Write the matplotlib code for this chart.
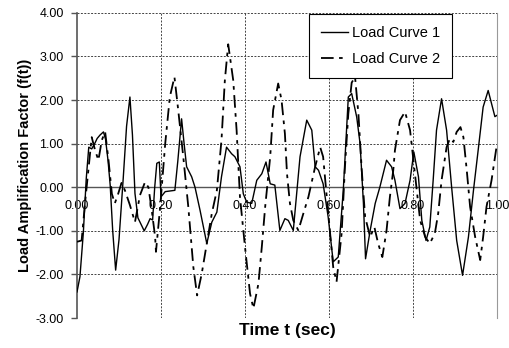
import numpy as np
import matplotlib
matplotlib.use("Agg")
import matplotlib.pyplot as plt

plt.rcParams['font.family'] = ['Liberation Sans', 'DejaVu Sans']

# Load Curve 1 (solid)
t1 = [0.0, 0.007, 0.015, 0.022, 0.028, 0.035, 0.042, 0.048, 0.055, 0.063, 0.068, 0.074,
      0.079, 0.085, 0.092, 0.1, 0.11, 0.118, 0.126, 0.132, 0.138, 0.145, 0.16, 0.168,
      0.174, 0.18, 0.185, 0.19, 0.196, 0.2, 0.21, 0.233, 0.24, 0.249, 0.255, 0.261,
      0.273, 0.281, 0.293, 0.309, 0.321, 0.333, 0.344, 0.356, 0.368, 0.376, 0.388,
      0.396, 0.404, 0.416, 0.428, 0.44, 0.45, 0.46, 0.471, 0.483, 0.495, 0.503, 0.515,
      0.531, 0.547, 0.559, 0.567, 0.575, 0.586, 0.598, 0.61, 0.622, 0.634, 0.646, 0.654,
      0.666, 0.674, 0.682, 0.687, 0.698, 0.71, 0.721, 0.737, 0.749, 0.757, 0.769, 0.781,
      0.793, 0.802, 0.813, 0.821, 0.831, 0.84, 0.848, 0.856, 0.868, 0.88, 0.892, 0.904,
      0.918, 0.932, 0.944, 0.956, 0.967, 0.979, 0.987, 0.995, 1.0]
f1 = [-2.4, -2.05, -1.05, 0.2, 0.92, 0.88, 1.0, 1.12, 1.2, 1.27, 1.1, 0.6,
      0.05, -1.0, -1.9, -1.2, 0.2, 1.4, 2.07, 1.2, -0.14, -0.7, -1.0, -0.85,
      -0.72, -0.75, 0.0, 0.55, 0.58, -0.22, -0.1, -0.07, 0.6, 1.57, 1.0, 0.47,
      0.24, 0.0, -0.53, -1.29, -0.8, -0.57, 0.24, 0.92, 0.77, 0.7, 0.47,
      -0.15, -0.34, -0.37, 0.16, 0.31, 0.58, 0.08, 0.05, -0.99, -0.72, -0.76, -0.99,
      0.7, 1.54, 1.31, 0.47, 0.39, 0.08, -0.68, -1.71, -1.6, -0.07, 2.07, 2.15,
      1.61, 1.0, -0.37, -1.64, -0.99, -0.37, 0.0, 0.62, 0.47, 0.16, -0.49, -0.37,
      0.16, 0.81, 0.24, -0.76, -1.22, -0.91, 0.16, 1.31, 2.03, 1.31, 0.0, -1.22,
      -2.02, -1.14, -0.07, 0.92, 1.84, 2.22, 1.92, 1.62, 1.65]

# Load Curve 2 (dash-dot)
t2 = [0.0, 0.011, 0.019, 0.027, 0.035, 0.043, 0.051, 0.059, 0.067, 0.075, 0.083, 0.09,
      0.098, 0.106, 0.114, 0.126, 0.138, 0.15, 0.162, 0.17, 0.178, 0.186, 0.188, 0.198,
      0.21, 0.221, 0.232, 0.241, 0.253, 0.265, 0.277, 0.286, 0.297, 0.309, 0.321, 0.333,
      0.344, 0.352, 0.36, 0.372, 0.38, 0.388, 0.4, 0.412, 0.42, 0.432, 0.44, 0.448,
      0.46, 0.467, 0.479, 0.487, 0.495, 0.5, 0.507, 0.515, 0.527, 0.539, 0.551, 0.567,
      0.579, 0.586, 0.594, 0.602, 0.61, 0.618, 0.63, 0.638, 0.646, 0.654, 0.662, 0.67,
      0.678, 0.686, 0.698, 0.708, 0.717, 0.727, 0.737, 0.745, 0.753, 0.757, 0.769, 0.781,
      0.793, 0.801, 0.809, 0.817, 0.829, 0.84, 0.852, 0.86, 0.868, 0.88, 0.888, 0.896,
      0.904, 0.913, 0.92, 0.928, 0.936, 0.948, 0.96, 0.967, 0.975, 0.987, 1.0]
f2 = [-1.25, -1.22, -0.37, 0.39, 1.15, 0.85, 0.62, 1.08, 1.27, 0.62, -0.15, -0.37,
      -0.15, 0.1, -0.07, -0.41, -0.8, -0.18, 0.12, 0.0, -0.53, -1.14, -1.48, -0.45,
      1.0, 2.07, 2.53, 1.77, 0.7, -0.45, -1.83, -2.48, -1.98, -1.29, -0.6, -0.07,
      1.08, 2.45, 3.28, 2.45, 1.31, -0.22, -1.37, -2.44, -2.78, -2.21, -1.37, -0.45,
      0.7, 1.77, 2.38, 2.0, 1.23, 0.31, -0.37, -0.76, -0.99, -0.6, -0.22, 0.47,
      0.92, 0.7, -0.15, -0.99, -1.83, -2.17, -1.06, 0.47, 1.69, 2.4, 2.53, 1.69,
      0.39, -0.68, -1.14, -0.91, -1.29, -1.6, -0.99, -0.22, 0.39, 0.85, 1.54, 1.73,
      1.31, 0.62, -0.07, -0.76, -1.14, -1.29, -1.06, -0.6, 0.16, 0.92, 1.12, 1.04,
      1.27, 1.38, 1.15, 0.39, -0.45, -1.14, -1.67, -1.14, -0.45, 0.16, 1.0]

xticks = [0.0, 0.2, 0.4, 0.6, 0.8, 1.0]
yticks = [-3, -2, -1, 0, 1, 2, 3, 4]

fig = plt.figure(figsize=(5.1, 3.48), dpi=100)
ax = fig.add_axes([0.151, 0.086, 0.8235, 0.877])

# grid
for x in xticks[1:-1]:
    ax.axvline(x, color='#444444', lw=0.7, ls=(0, (2, 1.5)), zorder=1)
for y in yticks:
    if y != 0:
        ax.axhline(y, color='#444444', lw=0.7, ls=(0, (2, 1.5)), zorder=1)

ax.plot(t1, f1, color='black', lw=1.0, label='Load Curve 1', zorder=3)
ax.plot(t2, f2, color='black', lw=1.3, ls=(0, (7, 3, 2, 3)), label='Load Curve 2', zorder=3)

ax.set_xlim(0, 1)
ax.set_ylim(-3, 4)
ax.set_xticks(xticks)
ax.set_xticklabels(['%.2f' % v for v in xticks])
ax.set_yticks(yticks)
ax.set_yticklabels(['%.2f' % v for v in yticks])

ax.spines['bottom'].set_position(('data', 0))
ax.spines['bottom'].set_color('#555555')
ax.spines['bottom'].set_linewidth(1.0)
ax.spines['left'].set_color('#555555')
ax.spines['left'].set_linewidth(1.2)
ax.spines['top'].set_visible(False)
ax.spines['right'].set_color('#999999')
ax.spines['right'].set_linewidth(0.8)

ax.tick_params(axis='x', length=0, pad=9, labelsize=9)
ax.tick_params(axis='y', direction='out', length=4, width=1, color='#555555', labelsize=9, pad=5.5)

ax.set_xlabel('Time t (sec)', fontsize=12.5, fontweight='bold')
ax.xaxis.set_label_coords(0.5, -0.015)
ax.set_ylabel('Load Amplification Factor (f(t))', fontsize=10.5, fontweight='bold')
ax.yaxis.set_label_coords(-0.108, 0.5)

leg = ax.legend(loc='upper right', bbox_to_anchor=(0.893, 0.997), fontsize=10.5,
                frameon=True, fancybox=False, edgecolor='black', framealpha=1,
                handlelength=1.85, borderpad=0.85, labelspacing=0.8, handletextpad=0.25,
                borderaxespad=0)
leg.get_frame().set_linewidth(0.8)
leg.set_zorder(5)

fig.savefig('out.png', dpi=100)
